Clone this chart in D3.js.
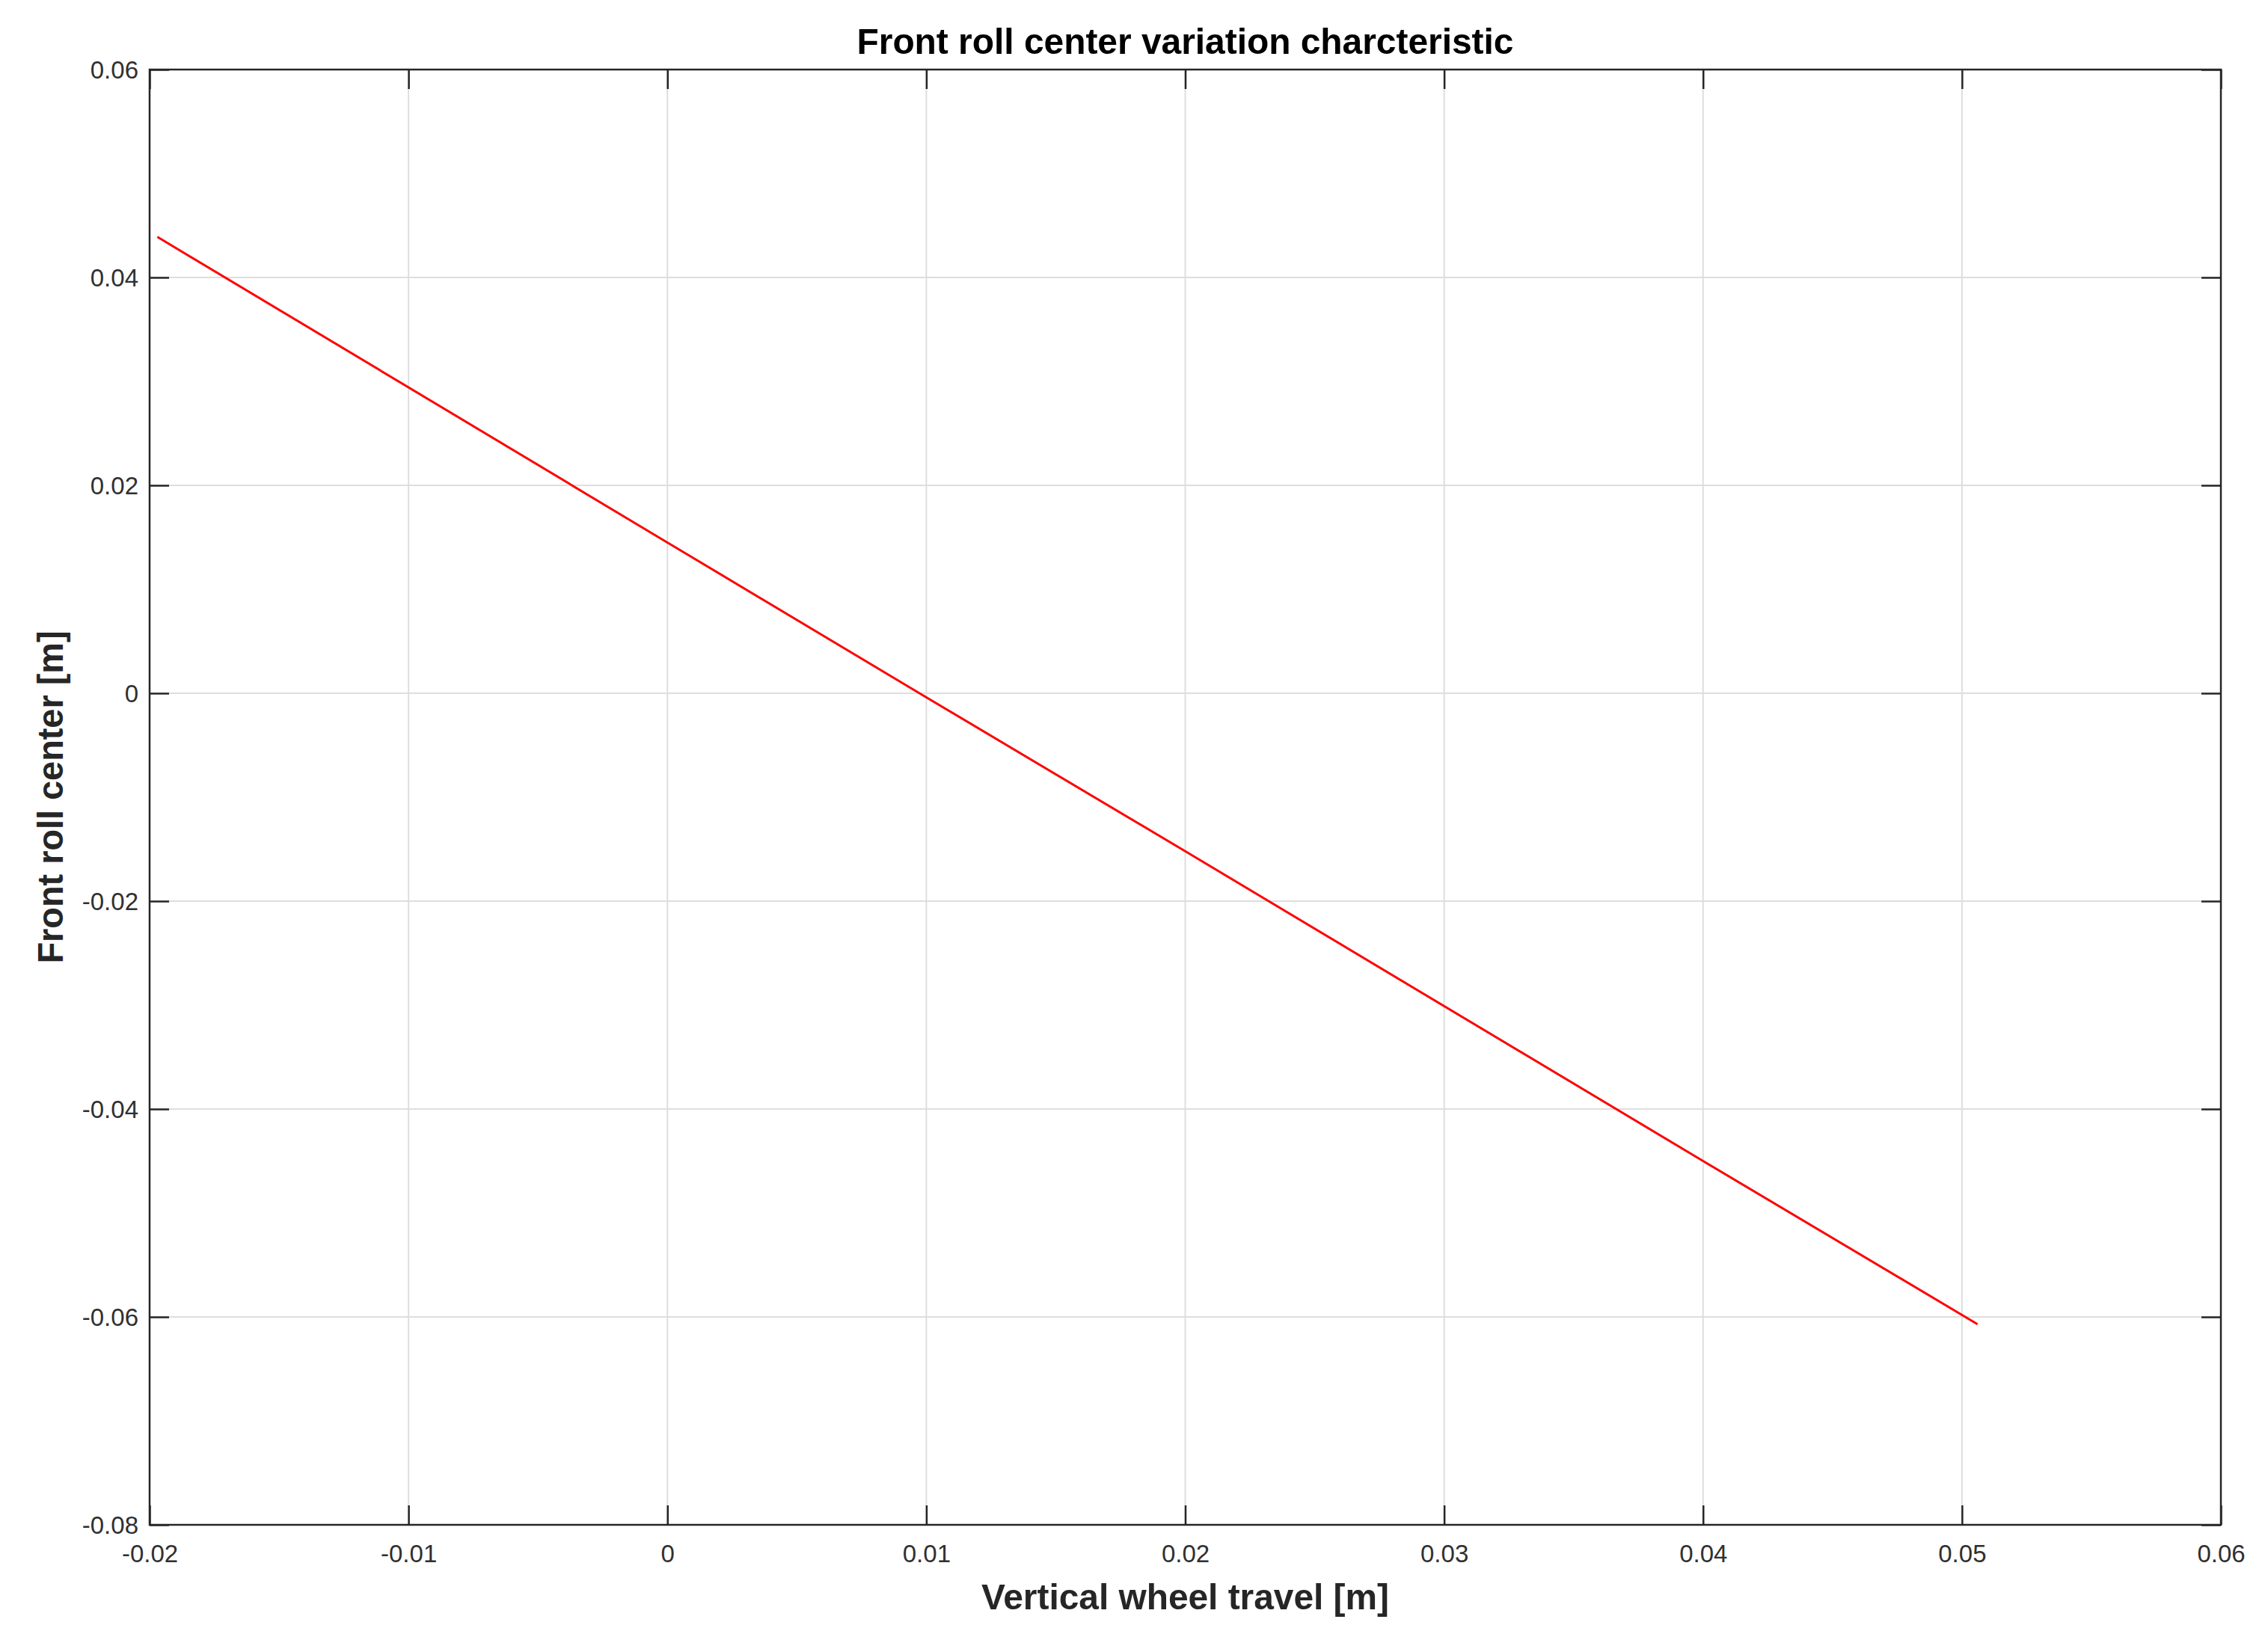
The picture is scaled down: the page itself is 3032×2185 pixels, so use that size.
<!DOCTYPE html>
<html>
<head>
<meta charset="utf-8">
<script src="https://cdn.jsdelivr.net/npm/d3@7"></script>
<style>
  html, body { margin: 0; padding: 0; background: #ffffff; }
  svg { display: block; }
  text { font-family: "Liberation Sans", Arial, Helvetica, sans-serif; }
</style>
</head>
<body>
<script>
// ---- data ----
const wheelTravel = [-0.0197, 0.0, 0.01, 0.02, 0.04, 0.0506];
const rollCenter  = [0.0439, 0.0145, -0.0004, -0.0152, -0.0450, -0.0607];
const xTicks = [-0.02, -0.01, 0, 0.01, 0.02, 0.03, 0.04, 0.05, 0.06];
const yTicks = [-0.08, -0.06, -0.04, -0.02, 0, 0.02, 0.04, 0.06];
const xTickLabels = ["-0.02", "-0.01", "0", "0.01", "0.02", "0.03", "0.04", "0.05", "0.06"];
const yTickLabels = ["-0.08", "-0.06", "-0.04", "-0.02", "0", "0.02", "0.04", "0.06"];
const titleText = "Front roll center variation charcteristic";
const xLabelText = "Vertical wheel travel [m]";
const yLabelText = "Front roll center [m]";

(function () {
  // ---- layout ----
  const W = 3032, H = 2185;
  const pL = 200, pR = 2969, pT = 93, pB = 2039;
  const tickLen = 26;
  const axisColor = "#262626";

  const svg = d3.select("body").append("svg")
    .attr("width", W).attr("height", H);

  svg.append("rect").attr("width", W).attr("height", H).attr("fill", "#ffffff");

  const x = d3.scaleLinear().domain([-0.02, 0.06]).range([pL, pR]);
  const y = d3.scaleLinear().domain([-0.08, 0.06]).range([pB, pT]);

  // grid lines
  const grid = svg.append("g");
  grid.selectAll("line.gx").data(xTicks.slice(1, -1)).enter().append("line")
    .attr("x1", d => x(d)).attr("x2", d => x(d))
    .attr("y1", pT).attr("y2", pB)
    .attr("stroke", "#dedede").attr("stroke-width", 2);
  grid.selectAll("line.gy").data(yTicks.slice(1, -1)).enter().append("line")
    .attr("y1", d => y(d)).attr("y2", d => y(d))
    .attr("x1", pL).attr("x2", pR)
    .attr("stroke", "#dedede").attr("stroke-width", 2);

  // data line
  const line = d3.line().x((d, i) => x(wheelTravel[i])).y(d => y(d));
  svg.append("path")
    .datum(rollCenter)
    .attr("d", line)
    .attr("fill", "none")
    .attr("stroke", "#ff0000")
    .attr("stroke-width", 3);

  const fmtX = d => xTickLabels[xTicks.indexOf(d)];
  const fmtY = d => yTickLabels[yTicks.indexOf(d)];

  const xAxisB = d3.axisBottom(x).tickValues(xTicks).tickFormat(fmtX)
    .tickSizeInner(-tickLen).tickSizeOuter(0).tickPadding(0);
  const xAxisT = d3.axisTop(x).tickValues(xTicks).tickFormat("")
    .tickSizeInner(-tickLen).tickSizeOuter(0);
  const yAxisL = d3.axisLeft(y).tickValues(yTicks).tickFormat(fmtY)
    .tickSizeInner(-tickLen).tickSizeOuter(0).tickPadding(0);
  const yAxisR = d3.axisRight(y).tickValues(yTicks).tickFormat("")
    .tickSizeInner(-tickLen).tickSizeOuter(0);

  function styleAxis(g) {
    g.select(".domain").remove();
    g.selectAll(".tick line").attr("stroke", axisColor).attr("stroke-width", 2.5);
    g.selectAll(".tick text")
      .attr("fill", "#303030")
      .style("font-size", "33px")
      .style("font-family", "'Liberation Sans', Arial, sans-serif");
  }

  const gxb = svg.append("g").attr("transform", `translate(0,${pB})`).call(xAxisB).call(styleAxis);
  gxb.selectAll(".tick text").attr("y", 50).attr("dy", null);

  svg.append("g").attr("transform", `translate(0,${pT})`).call(xAxisT).call(styleAxis);

  const gyl = svg.append("g").attr("transform", `translate(${pL},0)`).call(yAxisL).call(styleAxis);
  gyl.selectAll(".tick text").attr("x", -15).attr("dy", "0.35em");

  svg.append("g").attr("transform", `translate(${pR},0)`).call(yAxisR).call(styleAxis);

  // frame
  svg.append("rect")
    .attr("x", pL).attr("y", pT)
    .attr("width", pR - pL).attr("height", pB - pT)
    .attr("fill", "none").attr("stroke", axisColor).attr("stroke-width", 2.5);

  // title
  svg.append("text")
    .attr("x", (pL + pR) / 2).attr("y", 72)
    .attr("text-anchor", "middle")
    .attr("font-weight", "bold").attr("font-size", 49)
    .attr("fill", "#000000")
    .attr("textLength", 878).attr("lengthAdjust", "spacingAndGlyphs")
    .text(titleText);

  // x label
  svg.append("text")
    .attr("x", (pL + pR) / 2).attr("y", 2152)
    .attr("text-anchor", "middle")
    .attr("font-weight", "bold").attr("font-size", 49)
    .attr("fill", "#262626")
    .attr("textLength", 545).attr("lengthAdjust", "spacingAndGlyphs")
    .text(xLabelText);

  // y label
  svg.append("text")
    .attr("transform", `translate(84,${(pT + pB) / 2}) rotate(-90)`)
    .attr("text-anchor", "middle")
    .attr("font-weight", "bold").attr("font-size", 49)
    .attr("fill", "#262626")
    .attr("textLength", 445).attr("lengthAdjust", "spacingAndGlyphs")
    .text(yLabelText);
})();
</script>
</body>
</html>
